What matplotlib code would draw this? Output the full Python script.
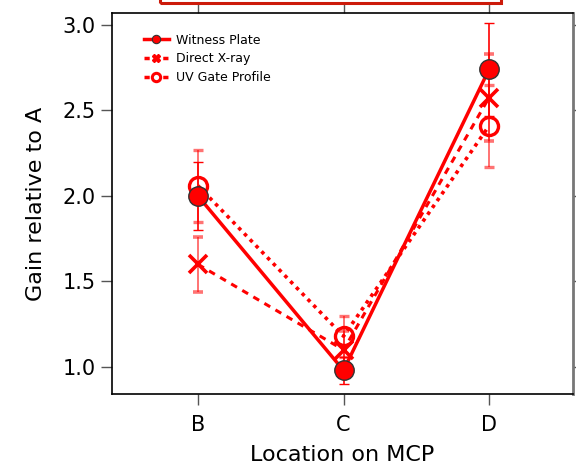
import matplotlib
matplotlib.use("Agg")
import matplotlib.pyplot as plt
from matplotlib.patches import Rectangle
from matplotlib.lines import Line2D

# Gain measured at each MCP location, normalised to location A
locations = ["B", "C", "D"]
witness_plate = [2.00, 0.98, 2.74]
witness_err = [0.20, 0.08, 0.27]
direct_xray = [1.60, 1.10, 2.575]
direct_xray_err = [0.16, 0.11, 0.255]
uv_gate = [2.06, 1.18, 2.41]
uv_gate_err = [0.21, 0.12, 0.24]

plt.rcParams["font.family"] = ["DejaVu Sans"]

fig = plt.figure(figsize=(5.76, 4.67), dpi=100)
ax = fig.add_axes([112 / 576, 1 - 394 / 467, (573 - 112) / 576, (394 - 13) / 467])

xpos = list(range(len(locations)))
red = "#ff0000"

ax.errorbar(xpos, uv_gate, yerr=uv_gate_err, color=red, ls=(0, (1.0, 1.3)), lw=2.6,
            marker="o", ms=13, mfc="none", mec=red, mew=2.4, ecolor=(1, 0, 0, 0.55),
            elinewidth=1.4, capsize=3.4, capthick=1.4, zorder=3)
ax.errorbar(xpos, direct_xray, yerr=direct_xray_err, color=red, ls=(0, (2.2, 2.0)), lw=2.2,
            marker="x", ms=13, mew=2.6, ecolor=(1, 0, 0, 0.55),
            elinewidth=1.4, capsize=3.4, capthick=1.4, zorder=3)
ax.errorbar(xpos, witness_plate, yerr=witness_err, color=red, ls="-", lw=2.5,
            marker="o", ms=14, mfc=red, mec="#333333", mew=1.0, ecolor=red,
            elinewidth=1.2, capsize=3.4, capthick=1.2, zorder=4)

ax.set_xlim(-0.591, 2.577)
ax.set_ylim(0.842, 3.07)
ax.set_xticks(xpos)
ax.set_xticklabels(locations)
ax.set_yticks([1.0, 1.5, 2.0, 2.5, 3.0])
ax.set_yticklabels(["1.0", "1.5", "2.0", "2.5", "3.0"])
ax.tick_params(axis="both", labelsize=15, direction="out", length=8, width=1.0,
               color="#555555", pad=4)
ax.tick_params(axis="x", pad=7)
ax.tick_params(top=True, right=True)

for side in ["left", "bottom", "top"]:
    ax.spines[side].set_linewidth(1.2)
    ax.spines[side].set_color("black")
ax.spines["right"].set_linewidth(2.0)
ax.spines["right"].set_color("#777777")

ax.set_xlabel("Location on MCP", fontsize=16, labelpad=7)
ax.set_ylabel("Gain relative to A", fontsize=16, labelpad=12)

# Legend with small markers
handles = [
    Line2D([], [], color=red, ls="-", lw=2.5, marker="o", ms=6, mfc=red, mec="#333333", mew=0.8),
    Line2D([], [], color=red, ls=(0, (1.5, 1.2)), lw=2.5, marker="X", ms=6, mfc=red, mec=red),
    Line2D([], [], color=red, ls=(0, (1.5, 1.2)), lw=2.5, marker="o", ms=6, mfc="white", mec=red, mew=2.2),
]
ax.legend(handles, ["Witness Plate", "Direct X-ray", "UV Gate Profile"], loc="upper left",
          bbox_to_anchor=(0.045, 0.975), frameon=False, fontsize=9, handlelength=2.0,
          handletextpad=0.6, labelspacing=0.45)

# Clipped frame at the top edge of the figure
fig.patches.append(Rectangle((160 / 576, 1 - 2.5 / 467), (501 - 160) / 576, 0.05,
                             transform=fig.transFigure, fill=False, ec="#cc1a0a", lw=2.2))

fig.savefig("out.png", dpi=100)
